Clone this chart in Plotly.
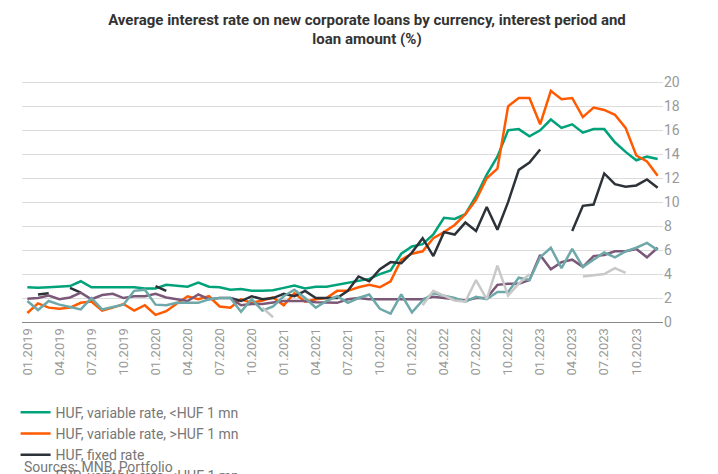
import plotly.graph_objects as go

months = [f"{m:02d}.{y}" for y in range(2019, 2024) for m in range(1, 13)]
tick_labels = [months[i] for i in range(0, 58, 3)]

huf_var_small = [2.9, 2.86, 2.9, 2.95, 3.0, 3.4, 2.9, 2.9, 2.9, 2.95, 2.9, 2.8, 2.8, 3.1, 3.05,
                 2.95, 3.3, 2.95, 2.9, 2.7, 2.75, 2.6, 2.6, 2.65, 2.85, 3.05, 2.8, 2.95, 2.95, 3.1,
                 3.3, 3.4, 3.6, 4.0, 4.3, 5.7, 6.3, 6.5, 7.3, 8.7, 8.6, 9.0, 10.5, 12.3, 13.8,
                 16.0, 16.1, 15.5, 16.0, 16.9, 16.2, 16.5, 15.8, 16.1, 16.1, 15.0, 14.2, 13.5, 13.8, 13.6]
huf_var_large = [0.75, 1.55, 1.2, 1.1, 1.2, 1.6, 1.7, 0.95, 1.2, 1.5, 0.95, 1.4, 0.6, 0.9, 1.55,
                 2.15, 1.9, 2.15, 1.3, 1.2, 1.9, 1.6, 1.8, 2.05, 1.4, 2.4, 1.7, 1.9, 2.0, 2.6,
                 2.6, 2.9, 3.1, 2.9, 3.4, 5.2, 5.7, 5.9, 7.0, 7.5, 8.1, 9.0, 10.2, 12.0, 12.8,
                 18.0, 18.7, 18.7, 16.5, 19.3, 18.6, 18.7, 17.1, 17.9, 17.7, 17.3, 16.2, 13.9, 13.4, 12.2]
huf_fixed = [None, 2.3, 2.4, None, 2.85, 2.45, None, None, None, None, None, None, 3.0, 2.6, None,
             None, None, None, None, 2.0, 1.75, 2.15, 1.9, 2.0, 2.35, 2.15, 2.6, 2.0, 2.0, 2.0,
             2.6, 3.8, 3.4, 4.4, 5.0, 4.9, 5.8, 7.0, 5.5, 7.5, 7.3, 8.3, 7.6, 9.6, 7.7,
             10.0, 12.7, 13.3, 14.4, None, None, 7.6, 9.7, 9.8, 12.4, 11.5, 11.3, 11.4, 11.9, 11.2]
eur_var_small = [1.95, 2.0, 2.2, 1.9, 2.05, 2.45, 1.9, 2.25, 2.35, 2.0, 2.15, 2.15, 2.35, 2.05, 1.9,
                 1.75, 2.3, 1.9, 2.0, 2.0, 1.4, 1.5, 1.5, 1.6, 1.75, 1.75, 1.75, 1.65, 1.6, 1.6,
                 1.9, 2.0, 1.9, 1.9, 1.9, 1.9, 1.9, 1.9, 2.1, 2.0, 1.9, 1.8, 2.0, 2.0, 3.1,
                 3.2, 3.2, 3.5, 5.6, 4.4, 5.0, 5.2, 4.6, 5.5, 5.6, 5.9, 5.9, 6.1, 5.4, 6.2]
eur_var_large = [1.75, 1.0, 1.75, 1.45, 1.25, 1.05, 2.0, 1.05, 1.25, 1.45, 2.6, 2.7, 1.45, 1.4, 1.6,
                 1.6, 1.6, 1.9, 2.0, 2.0, 0.85, 1.9, 0.95, 1.3, 2.15, 2.7, 2.0, 1.2, 1.75, 2.15,
                 1.6, 2.0, 2.3, 1.1, 0.7, 2.3, 0.8, 1.8, 2.4, 2.2, 2.0, 1.7, 2.1, 1.9, 2.5,
                 2.5, 3.7, 3.5, 5.4, 6.2, 4.5, 6.1, 4.6, 5.2, 5.8, 5.4, 5.9, 6.2, 6.6, 6.0]
eur_fixed = [None] * 22 + [1.2, 0.4] + [None] * 13 + [1.4, 2.6, 2.2, 1.8, 1.7, 3.5, 1.9, 4.7,
             2.2, 3.2, 4.0, None, None, None, None, 3.8, 3.9, 4.0, 4.5, 4.1, None, None]

series = [
    ("HUF, variable rate, <HUF 1 mn", huf_var_small, "#00a27a"),
    ("HUF, variable rate, >HUF 1 mn", huf_var_large, "#ff5a00"),
    ("HUF, fixed rate", huf_fixed, "#2d3238"),
    ("EUR, variable rate, <HUF 1 mn", eur_var_small, "#7b5878"),
    ("EUR, variable rate, >HUF 1 mn", eur_var_large, "#6ea8a9"),
    ("EUR, fixed rate", eur_fixed, "#c8c8c8"),
]

fig = go.Figure()
for name, vals, color in series:
    fig.add_trace(go.Scatter(x=months, y=vals, mode="lines", name=name,
                             line=dict(color=color, width=2.5)))

fig.update_layout(
    width=718, height=474,
    paper_bgcolor="white", plot_bgcolor="white",
    font=dict(family="Roboto", color="#777", size=14),
    margin=dict(l=14, r=63, t=72, b=160),
    title=dict(text="<b>Average interest rate on new corporate loans by currency, interest period and<br>loan amount (%)</b>",
               x=0.5, xanchor="center", y=0.965, yanchor="top",
               font=dict(size=15, color="#333")),
    showlegend=True,
    legend=dict(orientation="h", yref="container", y=0.18, yanchor="top", x=-0.01, xanchor="left",
                entrywidth=200, entrywidthmode="pixels", font=dict(size=14, color="#777"),
                itemwidth=30, tracegroupgap=0),
    xaxis=dict(type="category", tickvals=tick_labels, ticktext=tick_labels, tickangle=-90,
               showgrid=False, showline=True, linecolor="#888", ticks="",
               tickfont=dict(size=13, color="#999"), range=[-0.5, 59.5]),
    yaxis=dict(side="right", range=[0, 20.2], tickvals=list(range(0, 21, 2)),
               gridcolor="#dcdcdc", zeroline=False, tickfont=dict(size=14, color="#999"), ticks=""),
    annotations=[dict(text="Sources: MNB, Portfolio", xref="paper", yref="paper", x=0, y=-0.6,
                      xanchor="left", yanchor="middle", showarrow=False,
                      font=dict(size=14, color="#777"))],
)

fig.write_html("out.html")
